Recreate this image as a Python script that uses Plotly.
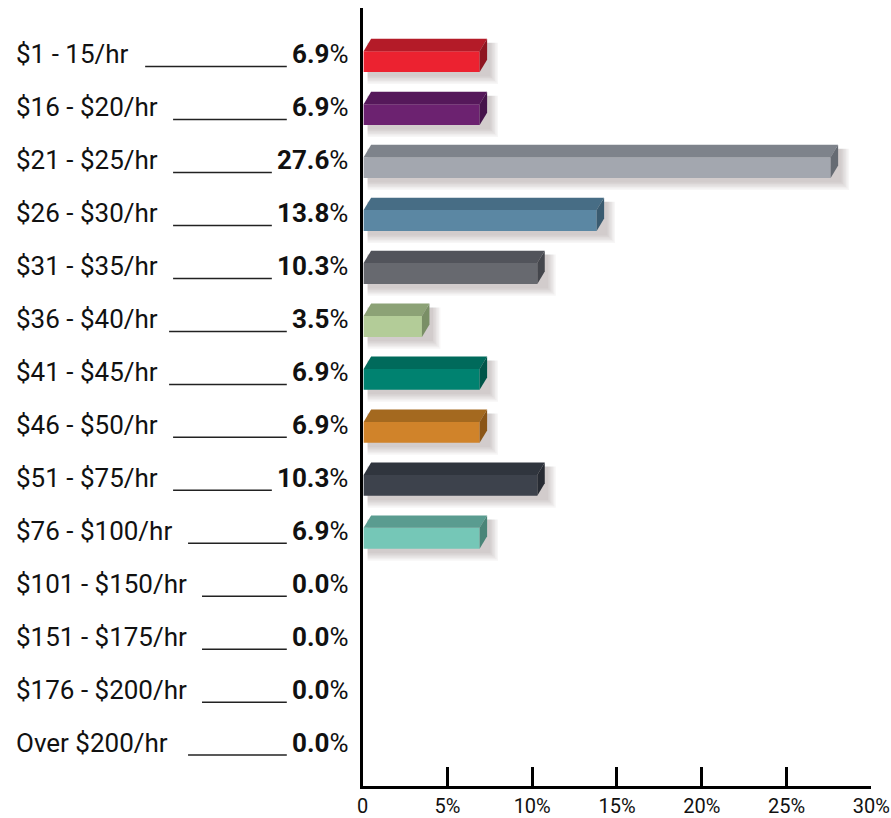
import plotly.graph_objects as go

# ---------------- data ----------------
categories = ["$1 - 15/hr", "$16 - $20/hr", "$21 - $25/hr", "$26 - $30/hr",
              "$31 - $35/hr", "$36 - $40/hr", "$41 - $45/hr", "$46 - $50/hr",
              "$51 - $75/hr", "$76 - $100/hr", "$101 - $150/hr", "$151 - $175/hr",
              "$176 - $200/hr", "Over $200/hr"]
values = [6.9, 6.9, 27.6, 13.8, 10.3, 3.5, 6.9, 6.9, 10.3, 6.9, 0.0, 0.0, 0.0, 0.0]
tick_vals = [0, 5, 10, 15, 20, 25, 30]
tick_text = ["0", "5%", "10%", "15%", "20%", "25%", "30%"]

# ---------------- styles ----------------
front_colors = ["#EC2230", "#6C2270", "#A3A7AF", "#5B87A3", "#67696F", "#B3CC98",
                "#008270", "#D0832A", "#3D424C", "#75C7B7", "#999999", "#999999",
                "#999999", "#999999"]
top_colors = ["#B41B28", "#55185A", "#7E838B", "#476D85", "#52545B", "#8CA276",
              "#006A5B", "#A4691F", "#30353E", "#5A9C90", "#777777", "#777777",
              "#777777", "#777777"]
side_colors = ["#8E1520", "#45134A", "#666B73", "#3A5B70", "#44464C", "#7A8F66",
               "#005549", "#8A5517", "#272B33", "#4A8578", "#666666", "#666666",
               "#666666", "#666666"]
underline_start_px = [144, 172, 172, 172, 172, 168, 168, 172, 172, 187, 201, 201, 201, 187]

# page -> picture mapping observed for this renderer (horizontal only)
SX, OX = 0.975, 4.5

def PX(t):
    return (t - OX) / SX

WF, HF = 912, 818
X0_T, X1_T = 362, 872          # picture px of 0% and 30%
TOP_T, BOT_T = 8, 791
ROW_T = 53.3
FIRST_ROW_T = 54.5
XMAX = 30
PX_X = (X1_T - X0_T) / XMAX
y_top = -(FIRST_ROW_T - TOP_T) / ROW_T
y_bot = y_top + (BOT_T - TOP_T) / ROW_T

def ux(px):
    return px / PX_X

def uy(px):
    return px / ROW_T

FONT = "Roboto, Arial, sans-serif"

fig = go.Figure()

dx = ux(7.5)
dy = uy(12.5)
x_start = 0.06

for i, v in enumerate(values):
    if v <= 0:
        continue
    ft = i + uy(-3)
    fb = i + uy(18)
    for e in [1.5, 3, 4.5, 6, 7.5, 9]:
        xs0 = x_start + ux(4)
        xs1 = v + dx + ux(2 + e)
        ys0 = ft - dy + uy(4)
        ys1 = fb + uy(3 + e)
        fig.add_trace(go.Scatter(
            x=[xs0, xs1, xs1, xs0, xs0], y=[ys0, ys0, ys1, ys1, ys0],
            mode="lines", fill="toself", fillcolor="rgba(60,50,50,0.045)",
            line=dict(width=0), hoverinfo="skip", showlegend=False))

for i, v in enumerate(values):
    if v <= 0:
        continue
    ft = i + uy(-3)
    fb = i + uy(18)
    fig.add_trace(go.Scatter(
        x=[x_start, v, v, x_start, x_start], y=[ft, ft, fb, fb, ft],
        mode="lines", fill="toself", fillcolor=front_colors[i],
        line=dict(width=0), hoverinfo="skip", showlegend=False))
    fig.add_trace(go.Scatter(
        x=[x_start, x_start + dx, v + dx, v, x_start],
        y=[ft, ft - dy, ft - dy, ft, ft],
        mode="lines", fill="toself", fillcolor=top_colors[i],
        line=dict(width=0), hoverinfo="skip", showlegend=False))
    fig.add_trace(go.Scatter(
        x=[v, v + dx, v + dx, v, v],
        y=[ft, ft - dy, fb - dy, fb, ft],
        mode="lines", fill="toself", fillcolor=side_colors[i],
        line=dict(width=0), hoverinfo="skip", showlegend=False))

annotations = []
shapes = []
for i, (c, v) in enumerate(zip(categories, values)):
    annotations.append(dict(
        x=(PX(15) - 2.9) / WF, xref="paper", xanchor="left",
        y=i, yref="y", yanchor="middle",
        text=c, showarrow=False, font=dict(family=FONT, size=26, color="#111111")))
    annotations.append(dict(
        x=(PX(346) + 3) / WF, xref="paper", xanchor="right",
        y=i, yref="y", yanchor="middle",
        text="<b>%.1f</b>%%" % v, showarrow=False,
        font=dict(family=FONT, size=26, color="#111111")))
    x_end = 286 if v < 10 else 271
    shapes.append(dict(
        type="line", xref="paper", yref="y",
        x0=PX(underline_start_px[i]) / WF, x1=PX(x_end) / WF,
        y0=i + uy(12.5), y1=i + uy(12.5),
        line=dict(color="#222222", width=1.5)))

fig.update_layout(
    width=WF, height=HF, autosize=False,
    margin=dict(l=0, r=0, t=TOP_T, b=HF - BOT_T),
    paper_bgcolor="white", plot_bgcolor="white",
    showlegend=False,
    annotations=annotations,
    shapes=shapes,
    xaxis=dict(
        domain=[PX(X0_T) / WF, PX(X1_T) / WF], range=[0, XMAX],
        showgrid=False, zeroline=False,
        showline=True, linecolor="black", linewidth=3,
        ticks="inside", ticklen=19, tickwidth=2.5, tickcolor="black",
        tickvals=tick_vals, ticktext=tick_text,
        tickfont=dict(family=FONT, size=20, color="#111111"),
        fixedrange=True),
    yaxis=dict(
        range=[y_bot, y_top], showgrid=False, zeroline=False,
        showline=True, linecolor="black", linewidth=3,
        showticklabels=False, ticks="", fixedrange=True),
)

page_fix = ("document.documentElement.style.margin='0';"
            "document.body.style.margin='0';"
            "document.body.style.padding='0';"
            "document.documentElement.style.overflow='hidden';"
            "document.body.style.overflow='hidden';")

fig.write_html("out.html", post_script=page_fix,
               config={"displayModeBar": False, "responsive": False})
